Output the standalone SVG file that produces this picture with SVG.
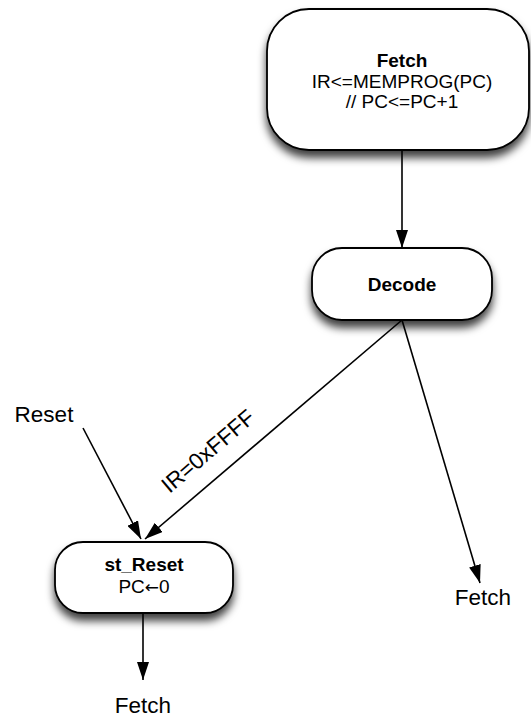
<svg xmlns="http://www.w3.org/2000/svg" width="531" height="719" viewBox="0 0 531 719">
<style>
.node{fill:#fff;stroke:#000;stroke-width:1.8;filter:url(#sh)}
.t{font-family:"Liberation Sans",Arial,sans-serif;font-size:19px;fill:#000;text-anchor:middle}
.b{font-weight:bold}
.arr{font-family:"DejaVu Sans",sans-serif;font-size:17px}
.lbl{font-family:"Liberation Sans",Arial,sans-serif;font-size:22.5px;fill:#000;text-anchor:middle}
.edge{stroke:#000;stroke-width:1.6;fill:none;marker-end:url(#ah)}
</style>
<defs>
<filter id="sh" x="-20%" y="-20%" width="140%" height="170%">
<feDropShadow dx="0" dy="7" stdDeviation="4.5" flood-color="#000" flood-opacity="0.75"/>
</filter>
<marker id="ah" viewBox="0 0 18 12" refX="18" refY="6" markerWidth="18" markerHeight="12" markerUnits="userSpaceOnUse" orient="auto">
<path d="M0,0 L18,6 L0,12 Z" fill="#000"/>
</marker>
</defs>
<g id="connectors">
<line class="edge" x1="402" y1="150" x2="402" y2="248"/>
<line class="edge" x1="402" y1="320" x2="145" y2="539"/>
<line class="edge" x1="402" y1="320" x2="480" y2="583"/>
<line class="edge" x1="83" y1="428" x2="141" y2="539"/>
<line class="edge" x1="143" y1="613" x2="143" y2="680"/>
<text class="lbl" transform="translate(213,457) rotate(-40.4)" x="0" y="0">IR=0xFFFF</text>
</g>
<g id="fetch">
<rect class="node" x="267" y="9" width="262" height="141" rx="42" ry="42"/>
<text class="t b" x="402" y="67">Fetch</text>
<text class="t" x="402" y="88">IR&lt;=MEMPROG(PC)</text>
<text class="t" x="402" y="108">// PC&lt;=PC+1</text>
</g>
<g id="decode">
<rect class="node" x="312" y="248" width="180" height="72" rx="30" ry="30"/>
<text class="t b" x="402" y="291">Decode</text>
</g>
<g id="st_reset">
<rect class="node" x="55" y="542" width="178" height="71" rx="28" ry="28"/>
<text class="t b" x="144" y="571">st_Reset</text>
<text class="t" x="144" y="593">PC<tspan class="arr">←</tspan>0</text>
</g>
<g id="labels">
<text class="lbl" x="44" y="422">Reset</text>
<text class="lbl" x="483" y="605">Fetch</text>
<text class="lbl" x="143" y="713">Fetch</text>
</g>
</svg>
